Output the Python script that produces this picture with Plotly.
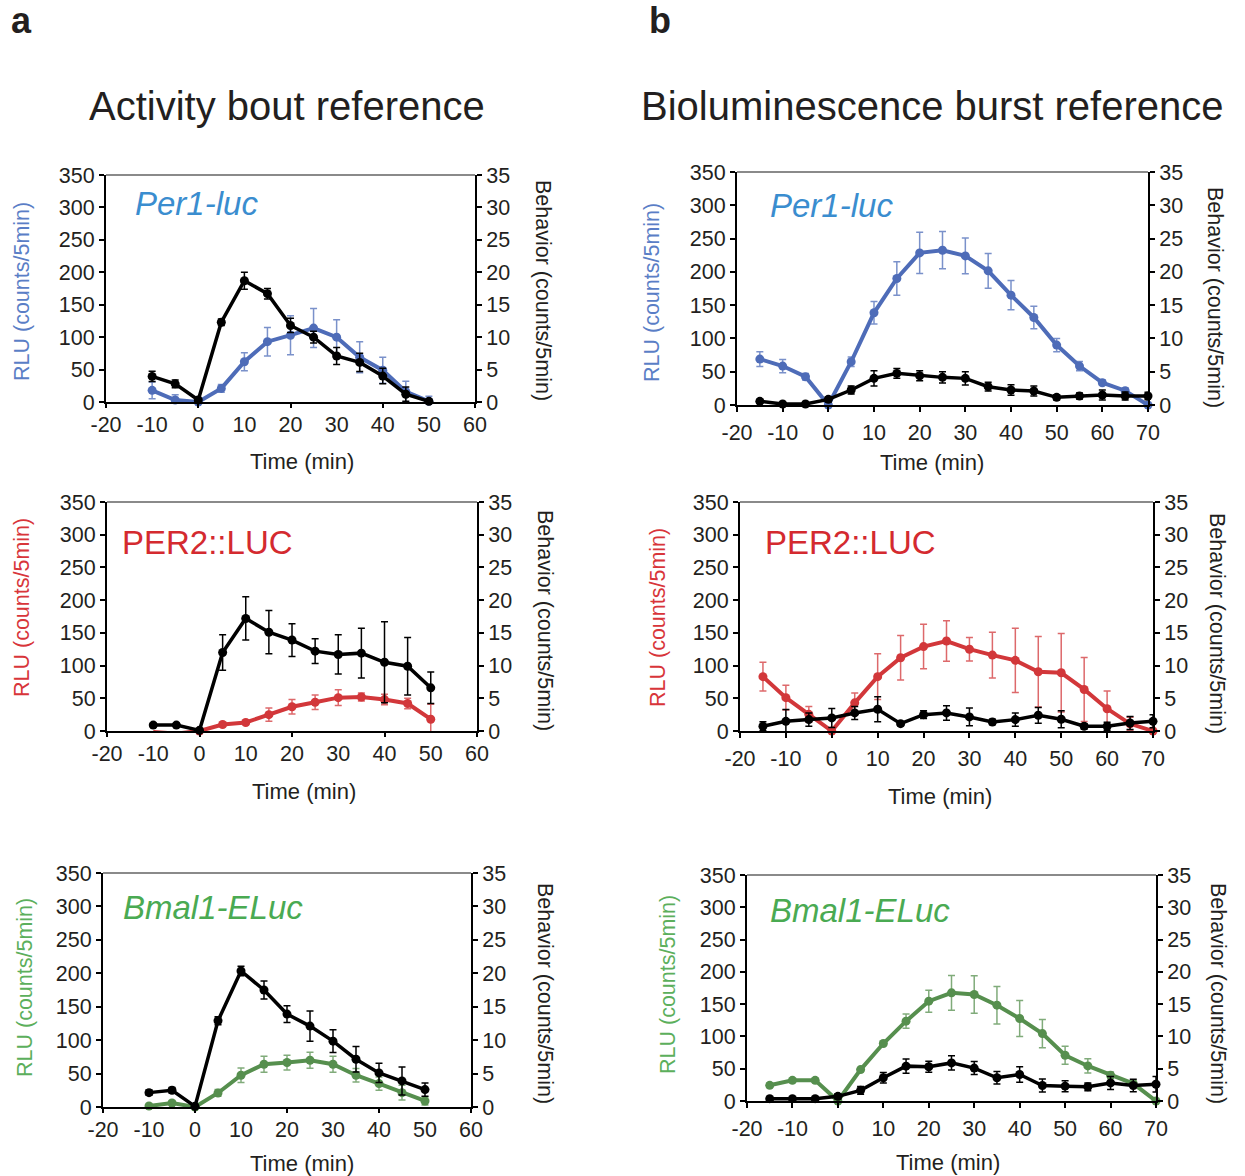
import plotly.graph_objects as go

W, H = 1245, 1176

# ---------------- data ----------------
a_time = [-10, -5, 0, 5, 10, 15, 20, 25, 30, 35, 40, 45, 50]
b_time = [-15, -10, -5, 0, 5, 10, 15, 20, 25, 30, 35, 40, 45, 50, 55, 60, 65, 70]

a1_rlu = [18, 3, 0, 21, 62, 93, 103, 114, 100, 69, 49, 16, 1]
a1_rlu_err = [13, 8, 0, 6, 14, 22, 30, 30, 27, 24, 20, 16, 8]
a1_beh = [3.95, 2.8, 0.3, 12.3, 18.7, 16.7, 11.8, 10.0, 7.1, 6.1, 4.0, 1.2, 0.1]
a1_beh_err = [0.8, 0.6, 0, 0.5, 1.3, 0.8, 1.1, 0.9, 1.3, 1.4, 1.2, 1.1, 0.2]

a2_rlu = [-1.5, -4, 0, 10, 13, 25, 37, 44, 51, 52, 48, 42, 18]
a2_rlu_err = [0, 0, 0, 3, 3, 10, 11, 11, 12, 6, 8, 8, 23]
a2_beh = [0.9, 0.9, 0.1, 12.0, 17.2, 15.1, 13.9, 12.2, 11.7, 11.9, 10.5, 9.9, 6.6]
a2_beh_err = [0.3, 0.3, 0, 2.7, 3.3, 3.3, 2.5, 1.9, 3.0, 3.8, 6.2, 4.4, 2.4]

a3_rlu = [1.5, 6, 0, 21, 47.5, 64, 66.5, 70, 64, 47.5, 35, 21.5, 9]
a3_rlu_err = [2, 3, 0, 5, 11, 12, 11, 12, 12, 10, 10, 11, 6]
a3_beh = [2.15, 2.5, 0.1, 12.9, 20.35, 17.5, 13.9, 12.1, 9.85, 7.15, 5.1, 3.9, 2.6]
a3_beh_err = [0.4, 0.4, 0, 0.6, 0.7, 1.35, 1.25, 2.25, 1.7, 1.9, 1.45, 2.1, 1.0]

b1_rlu = [69, 58.5, 42.5, 0, 65, 138.5, 190, 228.5, 232.5, 224, 201.5, 165, 131.5, 90, 58.5, 33.5, 21.5, 0]
b1_rlu_err = [11, 10, 5, 0, 7, 17, 25, 31, 28, 27, 26, 22, 17, 10, 7, 4, 4, 0]
b1_beh = [0.55, 0.15, 0.15, 0.85, 2.25, 4.0, 4.75, 4.4, 4.15, 4.0, 2.75, 2.25, 2.1, 1.15, 1.35, 1.5, 1.35, 1.35]
b1_beh_err = [0.3, 0.1, 0.1, 0.4, 0.6, 1.15, 0.75, 0.75, 0.85, 1.0, 0.65, 0.8, 0.75, 0.4, 0.45, 0.75, 0.6, 0.55]

b2_rlu = [83, 51, 25.5, 0, 43, 83, 112, 129, 137.5, 125, 116, 108, 90.5, 89, 63.5, 34, 11, 0]
b2_rlu_err = [22, 19, 12, 0, 15, 35, 34, 34, 31, 18, 35, 49, 54, 60, 49, 27, 10, 0]
b2_beh = [0.72, 1.48, 1.74, 2.0, 2.76, 3.32, 1.12, 2.5, 2.76, 2.15, 1.38, 1.74, 2.4, 1.79, 0.72, 0.72, 1.23, 1.48]
b2_beh_err = [0.7, 1.8, 1.0, 1.45, 1.0, 1.9, 0.3, 0.6, 1.1, 1.35, 0.4, 1.0, 1.2, 1.3, 0.4, 0.6, 1.0, 1.0]

b3_rlu = [24.3, 32, 32, 0, 48.6, 89, 123.6, 154.6, 167.5, 165, 148.4, 127.7, 104.4, 70.8, 54.3, 39.8, 26.9, 0]
b3_rlu_err = [3, 3, 3, 0, 3, 3, 11, 17, 27, 29, 29, 28, 22, 14, 11, 5, 4, 0]
b3_beh = [0.36, 0.36, 0.36, 0.72, 1.65, 3.6, 5.4, 5.3, 5.9, 5.1, 3.6, 4.1, 2.4, 2.3, 2.2, 2.8, 2.4, 2.6]
b3_beh_err = [0.2, 0.2, 0.2, 0.4, 0.6, 0.8, 1.1, 0.85, 1.1, 1.0, 0.95, 1.2, 1.0, 0.85, 0.6, 1.0, 0.95, 1.2]

a_xticks = [-20, -10, 0, 10, 20, 30, 40, 50, 60]
b_xticks = [-20, -10, 0, 10, 20, 30, 40, 50, 60, 70]
rlu_ticks = [0, 50, 100, 150, 200, 250, 300, 350]
beh_ticks = [0, 5, 10, 15, 20, 25, 30, 35]

panel_titles = ["Activity bout reference", "Bioluminescence burst reference"]
gene_labels = ["<i>Per1-luc</i>", "PER2::LUC", "<i>Bmal1-ELuc</i>"]
rlu_title = "RLU (counts/5min)"
beh_title = "Behavior (counts/5min)"
time_title = "Time (min)"

# ---------------- styling ----------------
FONT = "Liberation Sans, Arial, sans-serif"
TXT = "#231f20"
line_cols = ["#4e6cb8", "#d2373a", "#568f4e"]
err_cols = ["rgba(78,108,184,0.75)", "rgba(210,55,58,0.75)", "rgba(86,143,78,0.75)"]
label_cols = ["#3a8dcf", "#d42a2f", "#4aaa52"]
ytitle_cols = ["#5a7ec6", "#d8353a", "#5caf5c"]

# panel boxes in pixels: (left, right, top, bottom)
boxes = [
    (106, 475, 175, 402), (107, 477, 502, 731), (103, 471, 873, 1107),
    (737, 1148, 172, 405), (740, 1153, 502, 731), (747, 1156, 875, 1101),
]
gene_pos = [(133, 204), (120, 542), (121, 907), (768, 205), (763, 542), (768, 910)]
ltitle_pos = [(22, 292), (22, 608), (25, 988), (652, 293), (658, 618), (668, 985)]
rtitle_pos = [(543, 290), (545, 620), (545, 993), (1215, 297), (1217, 623), (1218, 993)]
time_pos = [(302, 462), (304, 791), (302, 1163), (932, 463), (940, 796), (948, 1162)]

panels = [
    (a_time, a1_rlu, a1_rlu_err, a1_beh, a1_beh_err, 0, "a"),
    (a_time, a2_rlu, a2_rlu_err, a2_beh, a2_beh_err, 1, "a"),
    (a_time, a3_rlu, a3_rlu_err, a3_beh, a3_beh_err, 2, "a"),
    (b_time, b1_rlu, b1_rlu_err, b1_beh, b1_beh_err, 0, "b"),
    (b_time, b2_rlu, b2_rlu_err, b2_beh, b2_beh_err, 1, "b"),
    (b_time, b3_rlu, b3_rlu_err, b3_beh, b3_beh_err, 2, "b"),
]

fig = go.Figure()
layout = dict()
annotations = []
shapes = []


def px(x):
    return x / W


def py(y):
    return 1 - y / H


TICK_SIZE = 21.5
tickfont = dict(family=FONT, size=TICK_SIZE, color=TXT)

for i, (t, rlu, rerr, beh, berr, g, col) in enumerate(panels):
    n = i + 1
    xname = "x" if n == 1 else f"x{n}"
    yl = 2 * n - 1
    yr = 2 * n
    ylname = "y" if yl == 1 else f"y{yl}"
    yrname = f"y{yr}"
    l, r, tp, bt = boxes[i]
    xr = [-20, 60] if col == "a" else [-20, 70]

    fig.add_trace(go.Scatter(
        x=t, y=rlu, xaxis=xname, yaxis=ylname, mode="lines+markers",
        line=dict(color=line_cols[g], width=4),
        marker=dict(color=line_cols[g], size=9),
        error_y=dict(type="data", array=rerr, color=err_cols[g], thickness=1.5, width=3.5),
        cliponaxis=False, showlegend=False))
    fig.add_trace(go.Scatter(
        x=t, y=beh, xaxis=xname, yaxis=yrname, mode="lines+markers",
        line=dict(color="#000000", width=3.5),
        marker=dict(color="#000000", size=9),
        error_y=dict(type="data", array=berr, color="#000000", thickness=1.5, width=3.5),
        cliponaxis=False, showlegend=False))

    xticks = a_xticks if col == "a" else b_xticks
    layout[f"xaxis{'' if n == 1 else n}"] = dict(
        domain=[px(l), px(r)], anchor=ylname, range=xr, automargin=False,
        tickmode="array", tickvals=xticks, ticktext=[str(v) for v in xticks],
        ticks="" if col == "a" else "outside", ticklen=5, tickwidth=1.5, tickcolor="black",
        showline=True, linecolor="black", linewidth=2,
        showgrid=False, zeroline=False, tickfont=tickfont, ticklabelstandoff=2)
    layout[f"yaxis{'' if yl == 1 else yl}"] = dict(
        domain=[py(bt), py(tp)], anchor=xname, range=[0, 350], automargin=False,
        tickmode="array", tickvals=rlu_ticks,
        ticks="outside", ticklen=5, tickwidth=1.5, tickcolor="black",
        showline=True, linecolor="black", linewidth=2,
        showgrid=False, zeroline=False, tickfont=tickfont)
    layout[f"yaxis{yr}"] = dict(
        overlaying=ylname, side="right", anchor=xname, range=[0, 35], automargin=False,
        tickmode="array", tickvals=beh_ticks,
        ticks="outside", ticklen=5, tickwidth=1.5, tickcolor="black",
        showline=True, linecolor="black", linewidth=2,
        showgrid=False, zeroline=False, tickfont=tickfont)

    shapes.append(dict(type="line", xref=f"{xname} domain", yref=f"{ylname} domain",
                       x0=0, x1=1, y0=1, y1=1, line=dict(color="#8a8a8a", width=2)))

    gx, gy = gene_pos[i]
    annotations.append(dict(text=gene_labels[g], x=px(gx), y=py(gy), xref="paper", yref="paper",
                            xanchor="left", yanchor="middle", showarrow=False,
                            font=dict(family=FONT, size=33, color=label_cols[g])))
    lx, ly = ltitle_pos[i]
    annotations.append(dict(text=rlu_title, x=px(lx), y=py(ly), xref="paper", yref="paper",
                            xanchor="center", yanchor="middle", showarrow=False, textangle=-90,
                            font=dict(family=FONT, size=21.5, color=ytitle_cols[g])))
    rx, ry = rtitle_pos[i]
    annotations.append(dict(text=beh_title, x=px(rx), y=py(ry), xref="paper", yref="paper",
                            xanchor="center", yanchor="middle", showarrow=False, textangle=90,
                            font=dict(family=FONT, size=21.5, color=TXT)))
    tx, ty = time_pos[i]
    annotations.append(dict(text=time_title, x=px(tx), y=py(ty), xref="paper", yref="paper",
                            xanchor="center", yanchor="middle", showarrow=False,
                            font=dict(family=FONT, size=22, color=TXT)))

# extra tick-only axes for 'a' panels (ticks every 20 min)
for k, n in enumerate([1, 2, 3]):
    xname = "x" if n == 1 else f"x{n}"
    ylname = "y" if n == 1 else f"y{2 * n - 1}"
    layout[f"xaxis{7 + k}"] = dict(
        overlaying=xname, anchor=ylname, side="bottom", range=[-20, 60], automargin=False,
        tickmode="array", tickvals=[-20, 0, 20, 40, 60], ticks="outside", ticklen=5,
        tickwidth=1.5, tickcolor="black", showticklabels=False, showline=False,
        showgrid=False, zeroline=False)
    fig.add_trace(go.Scatter(x=[None], y=[None], xaxis=f"x{7 + k}", yaxis=ylname,
                             showlegend=False, hoverinfo="skip"))

annotations.append(dict(text="<b>a</b>", x=px(22), y=py(20), xref="paper", yref="paper",
                        xanchor="center", yanchor="middle", showarrow=False,
                        font=dict(family=FONT, size=36, color=TXT)))
annotations.append(dict(text="<b>b</b>", x=px(660), y=py(20), xref="paper", yref="paper",
                        xanchor="center", yanchor="middle", showarrow=False,
                        font=dict(family=FONT, size=36, color=TXT)))
annotations.append(dict(text=panel_titles[0], x=px(287), y=py(106), xref="paper", yref="paper",
                        xanchor="center", yanchor="middle", showarrow=False,
                        font=dict(family=FONT, size=40, color=TXT)))
annotations.append(dict(text=panel_titles[1], x=px(932), y=py(106), xref="paper", yref="paper",
                        xanchor="center", yanchor="middle", showarrow=False,
                        font=dict(family=FONT, size=40, color=TXT)))

fig.update_layout(
    template="none",
    width=W, height=H, margin=dict(l=0, r=0, t=0, b=0, pad=0, autoexpand=False),
    font=dict(family=FONT, color=TXT),
    paper_bgcolor="white", plot_bgcolor="white",
    annotations=annotations, shapes=shapes, showlegend=False,
    **layout)

fig.write_html(
    "out.html",
    config={"displayModeBar": False},
    post_script="document.documentElement.style.margin='0';document.body.style.margin='0';"
                "document.body.style.padding='0';document.body.style.overflow='hidden';",
)
